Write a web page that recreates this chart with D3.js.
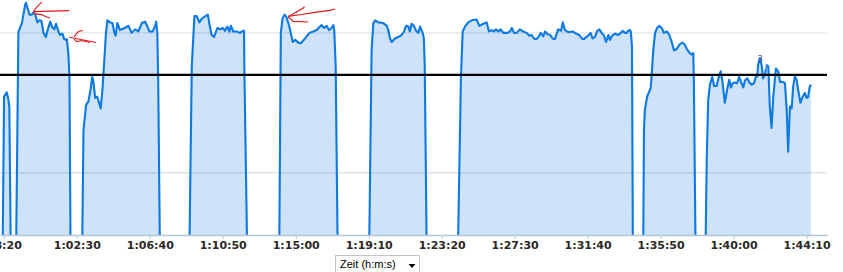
<!DOCTYPE html>
<html>
<head>
<meta charset="utf-8">
<script src="https://cdn.jsdelivr.net/npm/d3@7"></script>
<style>
  body { margin: 0; background: #fff; }
  svg { display: block; }
</style>
</head>
<body>
<svg id="chart" width="843" height="272"></svg>
<script>
// elapsed time (s) and power (W); 0 = stopped
const timeSec = [
  3487, 3494, 3501, 3510, 3516, 3519, 3526,
  3540, 3550, 3562, 3573, 3576, 3588, 3596, 3601, 3607, 3615, 3622, 3629, 3636, 3644, 3651, 3659, 3666, 3673, 3679, 3687, 3693, 3701, 3707, 3712, 3716, 3721, 3725, 3730,
  3766, 3773, 3782, 3790, 3798, 3803, 3807, 3813, 3820, 3832, 3838, 3843, 3850, 3855, 3864, 3872, 3879, 3883, 3889, 3898, 3915, 3927, 3938, 3950, 3961, 3973, 3984, 3990, 3999, 4010, 4018, 4022, 4026, 4029, 4037,
  4133, 4144, 4153, 4161, 4170, 4178, 4187, 4199, 4206, 4212, 4220, 4232, 4241, 4250, 4258, 4266, 4273, 4278, 4286, 4298, 4309, 4315, 4323, 4324, 4337,
  4442, 4449, 4455, 4462, 4469, 4478, 4490, 4498, 4509, 4517, 4532, 4547, 4560, 4572, 4583, 4589, 4597, 4606, 4614, 4623, 4629, 4632, 4637, 4646,
  4749, 4760, 4766, 4772, 4783, 4800, 4812, 4817, 4823, 4829, 4840, 4851, 4863, 4871, 4878, 4886, 4891, 4897, 4905, 4912, 4920, 4926, 4935, 4939, 4942, 4951,
  5052, 5066, 5072, 5080, 5091, 5103, 5120, 5129, 5143, 5154, 5162, 5171, 5179, 5186, 5194, 5202, 5211, 5225, 5234, 5240, 5248, 5257, 5268, 5279, 5291, 5300, 5308, 5316, 5325, 5333, 5339, 5348, 5354, 5363, 5371, 5380, 5388, 5399, 5409, 5415, 5422, 5434, 5449, 5460, 5471, 5480, 5487, 5499, 5510, 5517, 5525, 5533, 5540, 5548, 5556, 5563, 5571, 5576, 5584, 5594, 5605, 5614, 5620, 5628, 5634, 5639, 5645, 5648, 5652, 5656,
  5689, 5693, 5696, 5704, 5716, 5719, 5725, 5731, 5738, 5745, 5754, 5761, 5771, 5780, 5788, 5796, 5805, 5816, 5825, 5833, 5841, 5850, 5856, 5862, 5864, 5872,
  5901, 5908, 5913, 5919, 5927, 5933, 5942, 5951, 5956, 5962, 5970, 5978, 5985, 5991, 5997, 6005, 6012, 6019, 6027, 6033, 6039, 6047, 6054, 6062, 6070, 6076, 6081, 6084, 6090, 6096, 6101, 6107, 6113, 6119, 6124, 6130, 6136, 6145, 6153, 6159, 6168, 6176, 6182, 6187, 6193, 6199, 6204, 6210, 6216, 6221, 6229, 6236, 6244, 6250, 6255, 6261, 6265
];
const power = [
  0, 0, 309, 315, 304, 294, 0,
  0, 401, 414, 440, 443, 426, 426, 429, 427, 415, 418, 417, 400, 394, 405, 416, 408, 405, 413, 402, 397, 399, 391, 390, 391, 371, 337, 0,
  0, 261, 297, 302, 321, 337, 330, 307, 309, 292, 319, 352, 400, 418, 415, 414, 400, 396, 414, 404, 407, 410, 400, 405, 402, 414, 416, 411, 402, 402, 409, 416, 400, 329, 0,
  0, 352, 424, 424, 415, 420, 423, 426, 409, 397, 394, 407, 405, 407, 403, 409, 402, 410, 402, 402, 400, 402, 403, 352, 0,
  0, 400, 421, 426, 422, 409, 387, 390, 386, 385, 392, 400, 402, 404, 409, 411, 407, 410, 404, 407, 411, 404, 352, 0,
  0, 376, 414, 418, 415, 414, 410, 404, 392, 387, 392, 394, 397, 402, 410, 409, 402, 413, 410, 403, 400, 409, 400, 392, 352, 0,
  0, 337, 402, 409, 415, 418, 419, 410, 413, 415, 402, 404, 402, 405, 402, 405, 400, 400, 402, 407, 400, 400, 405, 402, 400, 396, 397, 392, 391, 395, 400, 395, 402, 398, 397, 392, 391, 405, 403, 415, 404, 401, 402, 399, 397, 392, 391, 395, 400, 392, 394, 403, 405, 400, 396, 387, 397, 390, 396, 399, 397, 400, 403, 400, 400, 403, 404, 402, 380, 0,
  0, 261, 290, 309, 321, 337, 376, 400, 407, 410, 407, 400, 402, 397, 387, 375, 377, 384, 386, 383, 376, 371, 369, 371, 328, 0,
  0, 219, 304, 326, 337, 324, 324, 340, 345, 330, 300, 319, 333, 322, 328, 329, 328, 337, 328, 322, 332, 335, 329, 326, 328, 337, 338, 354, 364, 354, 335, 340, 354, 352, 295, 264, 309, 349, 345, 330, 330, 328, 290, 230, 295, 292, 323, 338, 333, 319, 300, 308, 314, 307, 308, 323, 326
];
const tickSeconds = [3500, 3750, 4000, 4250, 4500, 4750, 5000, 5250, 5500, 5750, 6000, 6250];
const gridValues = [200, 400];
const threshold = 340;
const axisTitle = 'Zeit (h:m:s)';
// hand-drawn red arrows: anchor sample (s) + pen strokes in px around it
const noteAnchors = [3601, 3716, 4462];
const noteStrokes = [
  [[[0, -1], [36, -2]], [[0, -1], [3.4, -5.5], [6.7, -8.8], [8.4, -10.5]], [[0, 1], [8.4, 2], [13.4, 4.5], [16.7, 5.5]]],
  [[[2.6, -2], [29.3, 3.4]], [[7.3, -2.6], [11.6, -7.6], [16, -8.6]], [[7.3, 0], [10, 2.4], [15, 1.4], [23.3, 3.4]]],
  [[[3.6, 1.7], [15.3, 0], [30.3, -2.3], [45.3, -4.3], [50.3, -5.7]], [[3.6, 1.7], [10, -1.7], [18.6, -6.7], [20, -8]], [[3.6, 2.3], [8.6, 6.7], [23.6, 7.3]]]
];
const lapMarks = [[6090, '3'], [6113, 'i']];

const W = 827, H = 235;
const svg = d3.select('#chart');
const data = timeSec.map((t, i) => ({ t: t, v: power[i] }));

const x = d3.scaleLinear().domain([3487, 6320]).range([0, W]);
const y = d3.scaleLinear().domain([111, 447]).range([H, 0]);

svg.append('defs').append('clipPath').attr('id', 'plot')
  .append('rect').attr('x', 0).attr('y', 0).attr('width', W).attr('height', H);

// grid
svg.append('g').selectAll('line').data(gridValues).join('line')
  .attr('x1', 0).attr('x2', W)
  .attr('y1', d => y(d)).attr('y2', d => y(d))
  .attr('stroke', '#e4e4e4').attr('stroke-width', 1.4);

const plot = svg.append('g').attr('clip-path', 'url(#plot)');

const area = d3.area()
  .x(d => x(d.t))
  .y0(H)
  .y1(d => y(d.v));
plot.append('path').datum(data)
  .attr('d', area)
  .attr('fill', '#0a74e0')
  .attr('fill-opacity', 0.2);

const line = d3.line()
  .x(d => x(d.t))
  .y(d => y(d.v));
plot.append('path').datum(data)
  .attr('d', line)
  .attr('fill', 'none')
  .attr('stroke', '#0d79e3')
  .attr('stroke-width', 2.1)
  .attr('stroke-linejoin', 'round');

// threshold
svg.append('line')
  .attr('x1', 0).attr('x2', W)
  .attr('y1', y(threshold)).attr('y2', y(threshold))
  .attr('stroke', '#000').attr('stroke-width', 2.2);

// lap markers
const byTime = new Map(data.map(d => [d.t, d]));
svg.append('g').selectAll('text').data(lapMarks).join('text')
  .attr('x', d => x(d[0]) - 2)
  .attr('y', d => y(byTime.get(d[0]).v) + 4)
  .attr('font-family', 'DejaVu Sans, sans-serif')
  .attr('font-size', 8)
  .attr('fill', (d, i) => i ? '#dfe9ff' : '#5b3f8f')
  .text(d => d[1]);

// red pen notes
const pen = d3.line();
noteAnchors.forEach((t, i) => {
  const ax = x(t), ay = y(byTime.get(t).v);
  svg.append('g').selectAll('path').data(noteStrokes[i]).join('path')
    .attr('d', s => pen(s.map(p => [ax + p[0], ay + p[1]])))
    .attr('fill', 'none')
    .attr('stroke', '#e3161b')
    .attr('stroke-width', 1.1);
});

// x axis, hours dropped when zero
const pad = n => String(n).padStart(2, '0');
const fmt = s => {
  const h = Math.floor(s / 3600), m = Math.floor(s % 3600 / 60), sec = s % 60;
  return h ? h + ':' + pad(m) + ':' + pad(sec) : m + ':' + pad(sec);
};
const xAxis = svg.append('g')
  .attr('transform', `translate(0,${H})`)
  .call(d3.axisBottom(x).tickValues(tickSeconds).tickFormat(fmt).tickSize(4).tickSizeOuter(0));
xAxis.select('.domain').attr('stroke', '#b3c5db').attr('stroke-width', 1.5);
xAxis.selectAll('.tick line').attr('stroke', '#b3c5db');
xAxis.selectAll('.tick text')
  .attr('y', 6)
  .attr('dy', '0.71em')
  .attr('fill', '#2b2825')
  .attr('font-family', 'DejaVu Sans, sans-serif')
  .attr('font-weight', 'bold')
  .attr('font-size', 11);

// time-unit dropdown
const dd = svg.append('g').attr('transform', 'translate(335.5,255.5)');
dd.append('rect').attr('width', 84).attr('height', 20)
  .attr('fill', '#fff').attr('stroke', '#c4c4c4');
dd.append('text').attr('x', 4.5).attr('y', 12)
  .attr('font-family', 'Liberation Sans, Arial, sans-serif')
  .attr('font-size', 11).attr('fill', '#000')
  .text(axisTitle);
dd.append('path').attr('d', 'M73,8.5h7l-3.5,4z').attr('fill', '#000');
</script>
</body>
</html>
